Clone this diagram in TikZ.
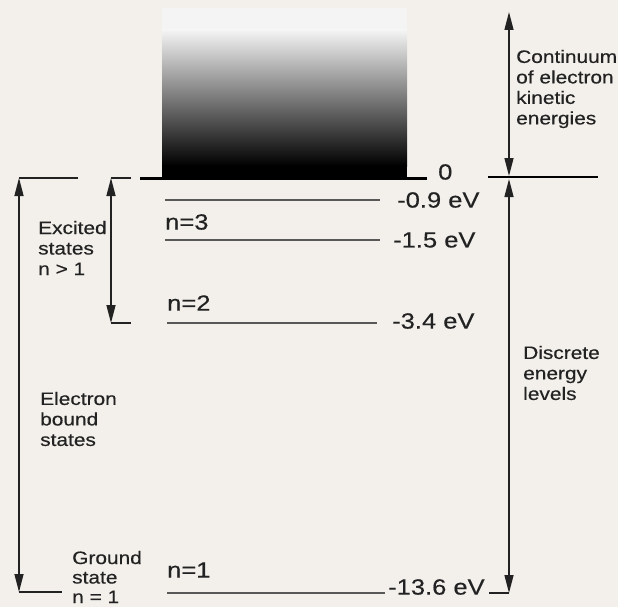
\documentclass[tikz,border=0pt]{standalone}
\usepackage{fontspec}
\newfontfamily\labelfont[FakeStretch=1.16,FakeBold=0.4]{Liberation Sans}
\usepackage{xcolor}
\usepackage{tikz}
\usetikzlibrary{arrows.meta}
\definecolor{paper}{HTML}{F3F0EC}
\definecolor{ink}{HTML}{222222}
\definecolor{levelgray}{HTML}{585858}
\definecolor{boxtop}{HTML}{F4F4F4}
\tikzset{
  sidetext/.style={anchor=west, inner sep=0pt, align=left, text=ink, font=\labelfont\fontsize{18}{20.5}\selectfont},
  evtext/.style={anchor=west, inner sep=0pt, text=ink, font=\labelfont\fontsize{22}{24}\selectfont},
  levelline/.style={levelgray, line width=2pt},
  span/.style={{Triangle[length=18pt,width=9pt]}-{Triangle[length=18pt,width=9pt]}, ink, line width=1.4pt},
  bracket/.style={ink, line width=1.4pt}
}

\begin{document}
\begin{tikzpicture}[x=1pt, y=-1pt]

\fill[paper] (0,0) rectangle (618,607);
\useasboundingbox (0,0) rectangle (618,607);

% Continuum block
\fill[boxtop] (162,8) rectangle (407,30);
\shade[top color=boxtop, bottom color=black] (162,30) rectangle (407,166);
\fill[black] (162,165) rectangle (407,178);

% Zero line
\draw[black, line width=3pt] (140,178) -- (427,178);
\draw[black, line width=2.6pt] (488,177) -- (598,177);
\node[evtext] (zero) at (438,172) {0};

% Levels
\draw[levelline] (165,200) -- (380,200);
\draw[levelline] (165,240) -- (380,240);
\draw[levelline] (167,323) -- (377,323);
\draw[levelline] (167,593) -- (385,593);

\node[evtext] (e09) at (397,200) {-0.9 eV};
\node[evtext] (e15) at (393,240) {-1.5 eV};
\node[evtext] (e34) at (392,321) {-3.4 eV};
\node[evtext] (e136) at (388,587) {-13.6 eV};

\node[evtext] (n3) at (165,222) {n=3};
\node[evtext] (n2) at (167,303) {n=2};
\node[evtext] (n1) at (167,570) {n=1};

% Side labels
\node[sidetext] (cont) at (516,89) {Continuum\\of electron\\kinetic\\energies};
\node[sidetext] (disc) at (523,373) {Discrete\\energy\\levels};
\node[sidetext] (exc) at (38,248) {Excited\\states\\n > 1};
\node[sidetext] (bound) at (40,419) {Electron\\bound\\states};
\node[sidetext, font=\labelfont\fontsize{18}{19.5}\selectfont] (ground) at (72,577) {Ground\\state\\n = 1};

% Bound states span
\coordinate (bt) at (19,178);
\coordinate (btr) at (78,178);
\coordinate (bb) at (19,592);
\coordinate (bbr) at (62,592);
\draw[bracket] (btr) -- (bt);
\draw[bracket] (bb) -- (bbr);
\draw[span] (bt) -- (bb);

% Excited states span
\coordinate (et) at (111,178);
\coordinate (etr) at (131,178);
\coordinate (eb) at (111,323);
\coordinate (ebr) at (131,323);
\draw[bracket] (etr) -- (et);
\draw[bracket] (eb) -- (ebr);
\draw[span] (et) -- (eb);

% Right spans
\coordinate (ct) at (509,12);
\coordinate (cz) at (509,176);
\coordinate (dz) at (509,179);
\coordinate (db) at (509,593);
\coordinate (dbl) at (489,593);
\draw[span] (cz) -- (ct);
\draw[span] (dz) -- (db);
\draw[bracket] (dbl) -- (db);

\end{tikzpicture}
\end{document}
